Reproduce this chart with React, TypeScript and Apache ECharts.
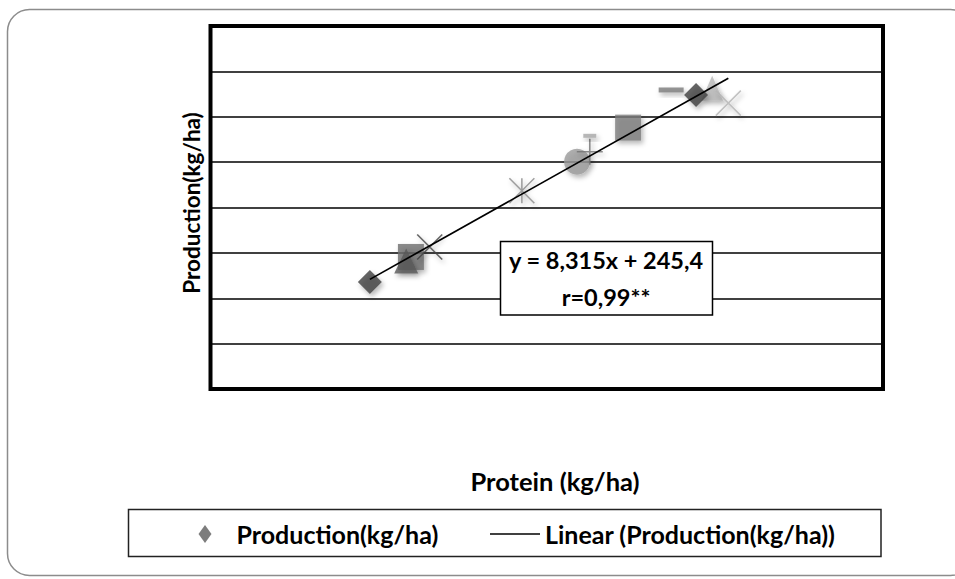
import React, { useEffect, useRef } from "react";
import * as echarts from "echarts";

// ---- data ----
const protein = [71.7, 77.8, 77.1, 80.6, 94.3, 102.5, 104.4, 104.4, 110.1, 116.5, 122.6, 120.2, 125.0];
const production = [836, 891, 882, 913, 1037, 1101, 1123, 1158, 1176, 1259, 1263, 1248, 1230];
const trendSlope = 8.315;
const trendIntercept = 245.4;
const equationText = "y = 8,315x + 245,4";
const rText = "r=0,99**";
const xTitle = "Protein (kg/ha)";
const yTitle = "Production(kg/ha)";
const seriesName = "Production(kg/ha)";
const trendName = "Linear (Production(kg/ha))";

// ---- marker styles (one per point, same order as the data) ----
const X_PATH = "path://M0,0L10,10M10,0L0,10";
const STAR_PATH = "path://M0,0L10,10M10,0L0,10M5,0L5,10";
const PLUS_PATH = "path://M0,5L10,5M5,0L5,10";
const markerStyles: any[] = [
  { symbol: "diamond", size: 24, color: "#404040" },
  { symbol: "rect", size: 26, color: "#6e6e6e" },
  { symbol: "triangle", size: [24, 25], color: "#585858" },
  { symbol: X_PATH, size: 25, stroke: "#404040" },
  { symbol: STAR_PATH, size: 25, stroke: "#8a8a8a" },
  { symbol: "circle", size: 26, color: "#9a9a9a" },
  { symbol: PLUS_PATH, size: 26, stroke: "#707070" },
  { symbol: "rect", size: [13, 4], color: "#a8a8a8" },
  { symbol: "rect", size: 26, color: "#7c7c7c" },
  { symbol: "rect", size: [25, 5], color: "#7a7a7a" },
  { symbol: "triangle", size: [22, 25], color: "#b8b8b8" },
  { symbol: "diamond", size: 24, color: "#404040" },
  { symbol: X_PATH, size: 25, stroke: "#b4b4b4" },
];

const FONT = 'Lato, "Noto Sans", sans-serif';

export default function App() {
  const ref = useRef<HTMLDivElement>(null);

  useEffect(() => {
    if (!ref.current) return;
    const chart = echarts.init(ref.current, null, { renderer: "svg" });

    const points = protein.map((x, i) => {
      const s = markerStyles[i];
      const shadow = {
        shadowBlur: 5,
        shadowColor: "rgba(0,0,0,0.35)",
        shadowOffsetX: 2,
        shadowOffsetY: 3,
      };
      const itemStyle = s.stroke
        ? { color: "transparent", borderColor: s.stroke, borderWidth: 1.6, ...shadow }
        : { color: s.color, ...shadow };
      return {
        value: [x, production[i]],
        symbol: s.symbol,
        symbolSize: s.size,
        itemStyle,
      };
    });

    const xMin = Math.min(...protein);
    const xMax = Math.max(...protein);
    const trend = [
      [xMin, trendSlope * xMin + trendIntercept],
      [xMax, trendSlope * xMax + trendIntercept],
    ];

    const legendText = {
      fontFamily: FONT,
      fontWeight: "bold",
      fontSize: 25,
      color: "#000",
      lineHeight: 26,
    };

    chart.setOption({
      animation: false,
      backgroundColor: "#ffffff",
      grid: {
        left: 210.5,
        top: 26,
        right: 72,
        bottom: 190,
        show: true,
        borderColor: "#000",
        borderWidth: 4,
        backgroundColor: "transparent",
      },
      xAxis: {
        type: "value",
        min: 48,
        max: 148,
        axisLine: { show: false },
        axisTick: { show: false },
        axisLabel: { show: false },
        splitLine: { show: false },
      },
      yAxis: {
        type: "value",
        min: 600,
        max: 1400,
        interval: 100,
        axisLine: { show: false },
        axisTick: { show: false },
        axisLabel: { show: false },
        splitLine: { show: true, lineStyle: { color: "#000", width: 1.5 } },
      },
      legend: [
        {
          data: [seriesName],
          left: 198.5,
          top: 521,
          padding: 0,
          selectedMode: false,
          itemWidth: 13,
          itemHeight: 18,
          icon: "diamond",
          itemStyle: { color: "#5c5c5c", shadowBlur: 0, borderWidth: 0 },
          textStyle: { ...legendText, padding: [0, 0, 0, 20] },
        },
        {
          data: [trendName],
          left: 490,
          top: 521,
          padding: 0,
          selectedMode: false,
          itemWidth: 50,
          itemHeight: 1.5,
          icon: "rect",
          itemStyle: { color: "#000", borderWidth: 0 },
          textStyle: legendText,
        },
      ],
      series: [
        {
          name: seriesName,
          type: "scatter",
          itemStyle: { color: "#5c5c5c" },
          data: points,
          z: 3,
        },
        {
          name: trendName,
          type: "line",
          data: trend,
          symbol: "none",
          showSymbol: false,
          lineStyle: { color: "#000", width: 1.7 },
          itemStyle: { color: "#000" },
          z: 5,
        },
      ],
      graphic: [
        {
          type: "rect",
          z: -10,
          shape: { x: 7.5, y: 9.5, width: 965, height: 566, r: 22 },
          style: { fill: "none", stroke: "#8c8c8c", lineWidth: 1.5 },
        },
        {
          type: "rect",
          z: 10,
          shape: { x: 500.5, y: 241.5, width: 212, height: 73.5 },
          style: { fill: "#fff", stroke: "#000", lineWidth: 1.5 },
        },
        {
          type: "text",
          z: 11,
          x: 606,
          y: 260,
          style: {
            text: equationText,
            fontFamily: FONT,
            fontWeight: "bold",
            fontSize: 23.5,
            fill: "#000",
            align: "center",
            verticalAlign: "middle",
          },
        },
        {
          type: "text",
          z: 11,
          x: 606,
          y: 297,
          style: {
            text: rText,
            fontFamily: FONT,
            fontWeight: "bold",
            fontSize: 23.5,
            fill: "#000",
            align: "center",
            verticalAlign: "middle",
          },
        },
        {
          type: "text",
          z: 11,
          x: 555,
          y: 481,
          style: {
            text: xTitle,
            fontFamily: FONT,
            fontWeight: "bold",
            fontSize: 25.5,
            fill: "#000",
            align: "center",
            verticalAlign: "middle",
          },
        },
        {
          type: "text",
          z: 11,
          x: 191,
          y: 203,
          rotation: Math.PI / 2,
          style: {
            text: yTitle,
            fontFamily: FONT,
            fontWeight: "bold",
            fontSize: 22.5,
            fill: "#000",
            align: "center",
            verticalAlign: "middle",
          },
        },
        {
          type: "rect",
          z: 1,
          shape: { x: 128.5, y: 509.5, width: 752.5, height: 47 },
          style: { fill: "none", stroke: "#222", lineWidth: 1.5 },
        },
      ],
    });

    return () => chart.dispose();
  }, []);

  return (
    <div
      ref={ref}
      style={{ position: "fixed", left: 0, top: 0, width: 955, height: 579 }}
    />
  );
}
